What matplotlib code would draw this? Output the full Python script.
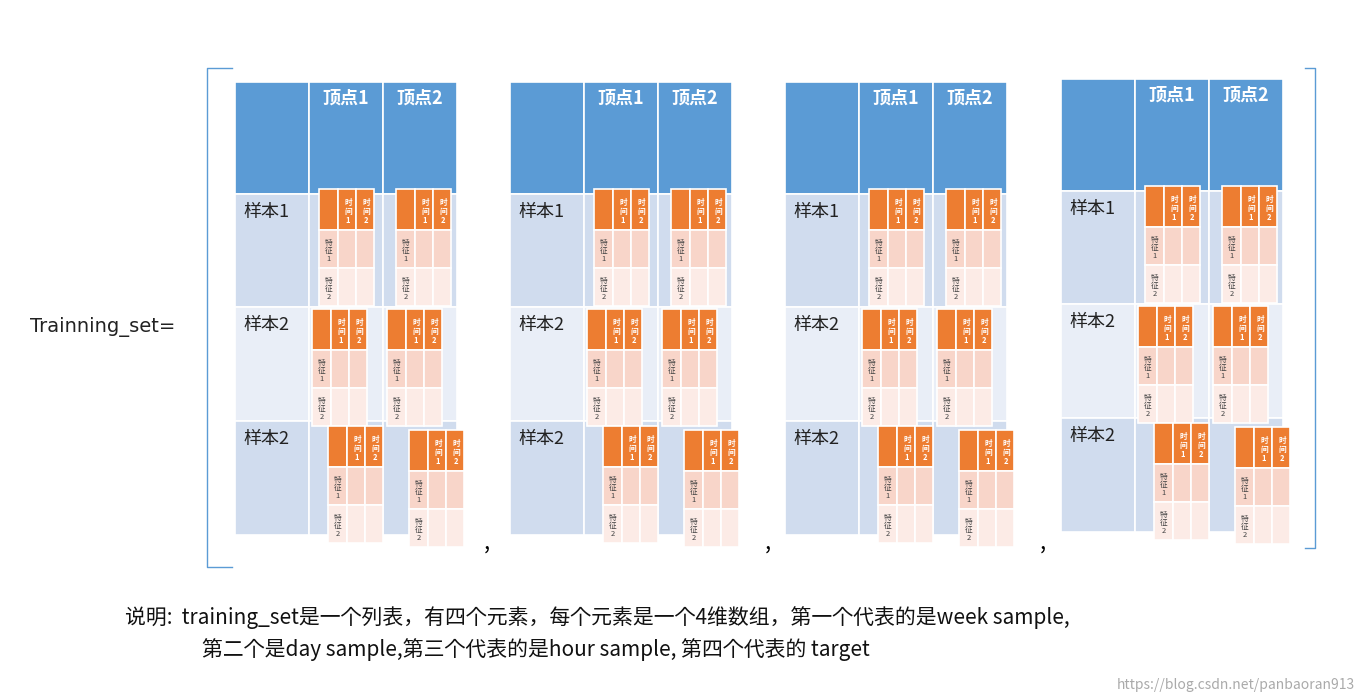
import matplotlib
matplotlib.use("Agg")
import matplotlib.pyplot as plt
from matplotlib.patches import Rectangle
from matplotlib import font_manager as fm

cjk = None
for f in fm.findSystemFonts():
    if "CJK" in f or "cjk" in f.lower():
        try:
            fm.fontManager.addfont(f)
        except Exception:
            pass
        if cjk is None or "SC" in f:
            cjk = f
names = [fe.name for fe in fm.fontManager.ttflist if "CJK" in fe.name]
fam = "Noto Sans CJK SC" if "Noto Sans CJK SC" in names else (names[0] if names else "DejaVu Sans")
plt.rcParams["font.family"] = [fam, "DejaVu Sans"]

col_headers = ["顶点1", "顶点2"]
row_labels = ["样本1", "样本2", "样本2"]
time_labels = ["时\n间\n1", "时\n间\n2"]
feat_labels = ["特\n征\n1", "特\n征\n2"]
table_x = [235, 510, 785, 1061]
table_y = [82, 82, 82, 79]
inner_off = [[(84, 107), (161, 107)],
             [(77, 227), (152, 227)],
             [(93, 344), (174, 348)]]
commas_x = [487, 768, 1043]
title_label = "Trainning_set="
caption1 = "说明:  training_set是一个列表，有四个元素，每个元素是一个4维数组，第一个代表的是week sample,"
caption2 = "第二个是day sample,第三个代表的是hour sample, 第四个代表的 target"
watermark = "https://blog.csdn.net/panbaoran913"

fig = plt.figure(figsize=(13.65, 7.0), dpi=100)
ax = fig.add_axes([0, 0, 1, 1])
ax.set_xlim(0, 1365)
ax.set_ylim(700, 0)
ax.axis("off")

BLUE = "#5B9BD5"; R1 = "#D0DCEE"; R2 = "#E9EEF7"
OR = "#ED7D31"; P1 = "#F8D5C9"; P2 = "#FCEBE6"
colw = [74, 74, 74]
rowh = [112, 113, 114, 114]
rowc = [BLUE, R1, R2, R1]

def rect(x, y, w, h, c, z=1):
    ax.add_patch(Rectangle((x, y), w, h, facecolor=c, edgecolor="white", lw=1.2, zorder=z))

def inner(x, y):
    cw = [19, 18, 18]
    hh = [41, 38, 38]
    cols = [OR, P1, P2]
    yy = y
    for r in range(3):
        xx = x
        for c in range(3):
            rect(xx, yy, cw[c], hh[r], cols[r], 3)
            if r == 0 and c > 0:
                ax.text(xx + cw[c] / 2 + 1, yy + hh[r] / 2 + 2, time_labels[c - 1], color="white",
                        fontsize=5.5, ha="center", va="center", fontweight="bold", zorder=4, linespacing=1.0)
            if r > 0 and c == 0:
                ax.text(xx + cw[c] / 2, yy + hh[r] / 2 + 2, feat_labels[r - 1], color="#444444",
                        fontsize=5.5, ha="center", va="center", zorder=4, linespacing=1.0)
            xx += cw[c]
        yy += hh[r]

for tx, ty in zip(table_x, table_y):
    y = ty
    for r in range(4):
        x = tx
        for c in range(3):
            rect(x, y, colw[c], rowh[r], rowc[r], 1)
            x += colw[c]
        if r == 0:
            for i, h in enumerate(col_headers):
                ax.text(tx + colw[0] * (i + 1) + 37, y + 16, h, color="white", fontsize=13,
                        fontweight="bold", ha="center", va="center", zorder=2)
        else:
            ax.text(tx + 8, y + 18, row_labels[r - 1], fontsize=13, color="#222222",
                    ha="left", va="center", zorder=2)
        y += rowh[r]
    for r in range(3):
        for v in range(2):
            dx, dy = inner_off[r][v]
            inner(tx + dx, ty + dy)

bc = "#5B9BD5"
ax.plot([232, 207, 207, 232], [68, 68, 567, 567], color=bc, lw=1)
ax.plot([1305, 1315, 1315, 1305], [68, 68, 548, 548], color=bc, lw=1)
for cx in commas_x:
    ax.text(cx, 543, ",", fontsize=16, ha="center", va="center", color="black")
ax.text(30, 327, title_label, fontsize=14, ha="left", va="center", color="#222222", fontfamily="DejaVu Sans")
ax.text(125, 618, caption1, fontsize=15, ha="left", va="center", color="#111111")
ax.text(202, 650, caption2, fontsize=15, ha="left", va="center", color="#111111")
ax.text(1355, 685, watermark, fontsize=10, ha="right", va="center", color="#AAAAAA")

fig.savefig("out.png", dpi=100)
